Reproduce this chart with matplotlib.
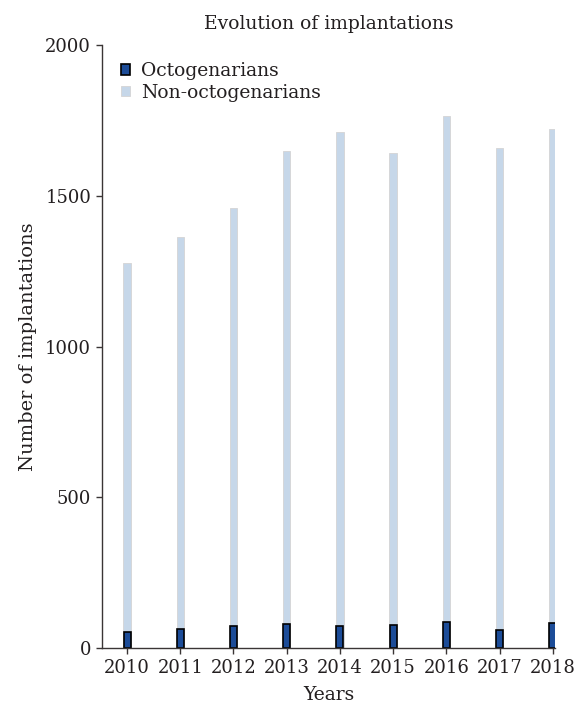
import numpy as np
import matplotlib
matplotlib.use("Agg")
import matplotlib.pyplot as plt

years = ["2010", "2011", "2012", "2013", "2014", "2015", "2016", "2017", "2018"]
octo = [54, 65, 73, 79, 73, 76, 85, 60, 84]
non_octo = [1278, 1364, 1460, 1650, 1712, 1642, 1766, 1660, 1723]

plt.rcParams['font.family'] = ['DejaVu Serif']
txt = "#231f20"

fig = plt.figure(figsize=(5.77, 7.06), dpi=100)
ax = fig.add_axes([0.176, 0.082, 0.7865, 0.854])

x = np.arange(len(years))
ax.bar(x, non_octo, width=0.14, color="#c6d7e9", edgecolor="#d4d4d4", linewidth=0.6,
       label="Non-octogenarians", zorder=1)
ax.bar(x, octo, width=0.13, color="#1c4c98", edgecolor="black", linewidth=1.2,
       label="Octogenarians", zorder=2)

ax.set_xlim(-0.48, 8.05)
ax.set_ylim(0, 2000)
ax.set_yticks([0, 500, 1000, 1500, 2000])
ax.set_xticks(x)
ax.set_xticklabels(years)

for s in ["top", "right"]:
    ax.spines[s].set_visible(False)
for s in ["left", "bottom"]:
    ax.spines[s].set_color("#3a3535")
    ax.spines[s].set_linewidth(1.0)
ax.tick_params(colors="#3a3535", labelcolor=txt, labelsize=13, length=4, width=1.0)

ax.set_xlabel("Years", fontsize=13.5, color=txt, labelpad=7)
ax.set_ylabel("Number of implantations", fontsize=14, color=txt, labelpad=6)
ax.set_title("Evolution of implantations", fontsize=13.5, color=txt, pad=12)

h, l = ax.get_legend_handles_labels()
ax.legend(h[::-1], l[::-1], loc="upper left", bbox_to_anchor=(0.005, 1.0), frameon=False,
          fontsize=13.5, handlelength=0.5, handleheight=0.5, handletextpad=0.6,
          labelspacing=0.2, labelcolor=txt)

fig.savefig("out.png", dpi=100)
